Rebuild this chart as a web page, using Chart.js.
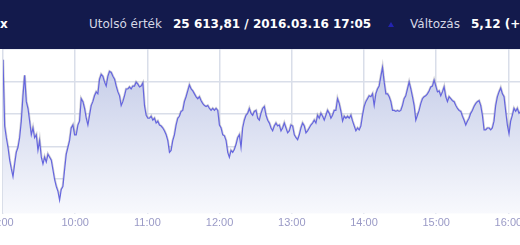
<!DOCTYPE html>
<html>
<head>
<meta charset="utf-8">
<script src="https://cdn.jsdelivr.net/npm/chart.js@4.4.1/dist/chart.umd.min.js"></script>
<style>
  html,body{margin:0;padding:0;width:520px;height:245px;overflow:hidden;background:#fff;}
  #hdr{position:absolute;left:0;top:0;width:520px;height:49px;background:#131a4c;z-index:2;overflow:hidden;
       font-family:"DejaVu Sans",sans-serif;font-size:12px;line-height:12px;white-space:nowrap;}
  #hdr span{position:absolute;top:18px;}
  .lbl{color:#d6d8e6;}
  .val{color:#fff;font-weight:bold;}
  #tri{position:absolute;left:388px;top:22px;width:0;height:0;border-left:3.5px solid transparent;border-right:3.5px solid transparent;border-bottom:5px solid #2323b0;}
  #wrap{position:absolute;left:-60px;top:49px;width:640px;height:196px;}
</style>
</head>
<body>
<div id="hdr">
  <span class="val" style="left:0px">x</span>
  <span class="lbl" style="left:89px">Utolsó érték</span>
  <span class="val" style="left:173px">25 613,81 / 2016.03.16 17:05</span>
  <div id="tri"></div>
  <span class="lbl" style="left:410px">Változás</span>
  <span class="val" style="left:471px">5,12 (+0,02%)</span>
</div>
<div id="wrap"><canvas id="c"></canvas></div>
<script>
// Session start and sampling interval of the intraday series
const startHour = 9;
const sampleSeconds = 83;
// Hour tick labels shown on the time axis
const hourTicks = ["9:00","10:00","11:00","12:00","13:00","14:00","15:00","16:00"];
// Index values
const prices = [
25733.5,25631.5,25613.5,25598.5,25579,25565.5,25553.5,25573,25591,25598.5,
25613.5,25639,25678,25709.5,25669,25658.5,25639,25618,25628.5,25613.5,
25618,25594,25609,25583.5,25573,25583.5,25576,25588,25583.5,25579,
25564,25549,25538.5,25531,25517.5,25534,25538.5,25564,25588,25598.5,
25609,25628.5,25633,25618,25618,25633,25639,25673.5,25669,25658.5,
25643.5,25633,25648,25663,25669,25678,25684,25681,25703.5,25711,
25708,25699,25693,25708,25715.5,25714,25708,25703.5,25693,25684,
25678,25663,25669,25678,25688.5,25688.5,25691.5,25688.5,25693,25693,
25699,25696,25691.5,25693,25697.5,25663,25648,25643.5,25643.5,25646.5,
25640.5,25643.5,25636,25639,25633,25631.5,25628.5,25624,25618,25609,
25591,25594,25609,25618,25633,25643.5,25646.5,25654,25655.5,25669,
25676.5,25685.5,25694.5,25688.5,25685.5,25681,25676.5,25673.5,25676.5,25670.5,
25666,25663,25661.5,25663,25658.5,25655.5,25658.5,25655.5,25658.5,25655.5,
25633,25628.5,25618,25616.5,25609,25591,25583.5,25594,25591,25595.5,
25603,25613.5,25618,25598.5,25628.5,25640.5,25648,25651,25658.5,25651,
25648,25654,25655.5,25643.5,25640.5,25651,25658.5,25661.5,25648,25640.5,
25636,25628.5,25624,25631.5,25636,25631.5,25633,25624,25628.5,25636,
25628.5,25621,25624,25633,25631.5,25618,25613.5,25610.5,25618,25628.5,
25636,25631.5,25621,25624,25628.5,25633,25636,25640.5,25636,25648,
25643.5,25651,25646.5,25640.5,25648,25655.5,25651,25643.5,25648,25655.5,
25655.5,25673.5,25666,25654,25639,25646.5,25643.5,25646.5,25643.5,25648,
25639,25631.5,25624,25628.5,25625.5,25631.5,25648,25661.5,25669,25673.5,
25678,25676.5,25681,25663,25681,25688.5,25693,25708,25721.5,25699,
25681,25681,25676.5,25669,25655.5,25655.5,25654,25655.5,25654,25655.5,
25663,25673.5,25678,25688.5,25699,25688.5,25676.5,25663,25640.5,25648,
25655.5,25666,25673.5,25676.5,25678,25681,25685.5,25691.5,25693,25702,
25693,25684,25685.5,25678,25684,25691.5,25676.5,25669,25676.5,25673.5,
25670.5,25669,25663,25658.5,25655.5,25654,25646.5,25640.5,25633,25639,
25643.5,25651,25655.5,25661.5,25666,25669,25670.5,25663,25648,25625.5,
25625.5,25628.5,25628.5,25625.5,25628.5,25639,25663,25676.5,25684,25690,
25681,25676.5,25654,25633,25619.5,25639,25648,25658.5,25654,25658.5,
25651,25654,25651,25655.5
];

const points = prices.map((v, i) => ({ x: i * sampleSeconds / 60, y: v }));
const lastMinute = (prices.length - 1) * sampleSeconds / 60;

new Chart(document.getElementById('c'), {
  type: 'line',
  data: {
    datasets: [{
      data: points,
      borderColor: 'rgba(96,96,222,0.95)',
      borderWidth: 1.2,
      pointRadius: 0,
      tension: 0,
      order: 0,
      fill: 'start',
      backgroundColor: (ctx) => {
        const ca = ctx.chart.chartArea;
        if (!ca) return 'rgba(200,206,232,0.8)';
        const g = ctx.chart.ctx.createLinearGradient(0, ca.top, 0, ca.bottom);
        g.addColorStop(0, 'rgb(192,200,230)');
        g.addColorStop(1, 'rgb(248,249,253)');
        return g;
      }
    }, {
      data: points,
      borderColor: 'rgba(120,120,135,0.35)',
      borderWidth: 2.6,
      pointRadius: 0,
      tension: 0,
      order: 1,
      fill: false
    }]
  },
  options: {
    animation: false,
    responsive: true,
    maintainAspectRatio: false,
    layout: { padding: { left: 63, right: 56, top: 0, bottom: 12 } },
    plugins: { legend: { display: false }, tooltip: { enabled: false } },
    scales: {
      x: {
        type: 'linear',
        min: 0,
        max: lastMinute,
        afterBuildTicks: (axis) => { axis.ticks = hourTicks.map((t, i) => ({ value: i * 60 })); },
        ticks: {
          autoSkip: false,
          maxRotation: 0,
          padding: 3,
          color: '#9a9ac6',
          font: { family: 'Liberation Sans', size: 11 },
          callback: (v) => hourTicks[Math.round(v / 60)] ?? ''
        },
        grid: { color: '#d9dee9', lineWidth: 1.5, drawTicks: false },
        border: { display: false }
      },
      y: {
        display: true,
        min: 25496.5,
        max: 25750,
        afterBuildTicks: (axis) => { axis.ticks = [25550,25600,25650,25700,25750].map(v => ({ value: v })); },
        ticks: { display: false },
        grid: { color: '#d9dee9', lineWidth: 1.5, drawTicks: false },
        border: { display: false }
      }
    }
  }
});
</script>
</body>
</html>
